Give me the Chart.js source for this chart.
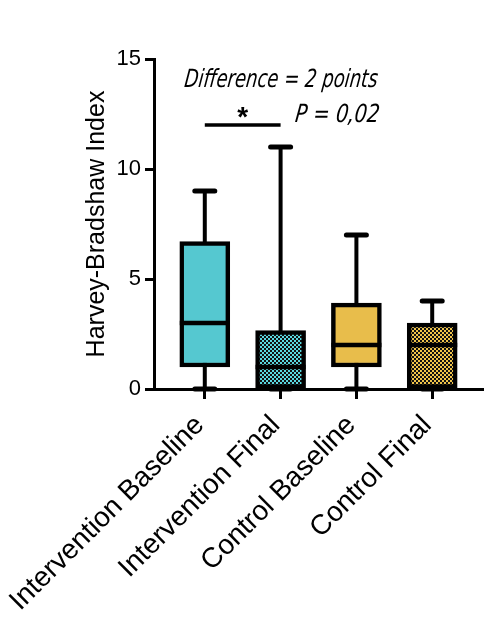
<!DOCTYPE html>
<html>
<head>
<meta charset="utf-8">
<title>Harvey-Bradshaw Index</title>
<script src="https://cdn.jsdelivr.net/npm/chart.js@4"></script>
<style>
  body { margin: 0; background: #ffffff; }
  canvas { display: block; }
</style>
</head>
<body>
<canvas id="chart" width="490" height="643"></canvas>
<script>
// Data
const categories = ["Intervention Baseline", "Intervention Final", "Control Baseline", "Control Final"];
const minValues = [0, 0, 0, 0];
const q1Values = [1, 0, 1, 0];
const medianValues = [3, 1, 2, 2];
const q3Values = [6.7, 2.65, 3.9, 3];
const maxValues = [9, 11, 7, 4];
const yTicks = [0, 5, 10, 15];

// Significance bracket between the two intervention groups
const sigPair = [0, 1];
const sigLevel = 12;
const diffText = "Difference = 2 points";
const pText = "P = 0,02";

const teal = "#55c8d0";
const gold = "#e8bd4b";

//Make a small checker pattern for the "Final" boxes
function makePattern(color) {
  const c = document.createElement("canvas");
  c.width = 4;
  c.height = 4;
  const cx = c.getContext("2d");
  cx.fillStyle = color;
  cx.fillRect(0, 0, 4, 4);
  cx.fillStyle = "#111111";
  cx.fillRect(0, 0, 2, 2);
  cx.fillRect(2, 2, 2, 2);
  return cx.createPattern(c, "repeat");
}

const boxFills = [teal, makePattern("#5ad8e0"), gold, makePattern("#f0c44a")];

//Squeeze a note into a given width (narrow handwritten look)
function fitText(ctx, text, x, y, width) {
  const w = ctx.measureText(text).width;
  ctx.save();
  ctx.translate(x, y);
  ctx.transform(width / w, 0, -0.12, 1, 0, 0);
  ctx.fillText(text, 0, 0);
  ctx.restore();
}

//Whiskers go under the axis and boxes, medians and the bracket on top
const boxPlotPlugin = {
  id: "boxPlot",
  beforeDraw(chart) {
    const ctx = chart.ctx;
    const xs = chart.scales.x;
    const ys = chart.scales.y;
    ctx.save();
    ctx.strokeStyle = "#000";
    ctx.lineCap = "round";
    categories.forEach(function (c, i) {
      const x = xs.getPixelForValue(i);
      ctx.lineWidth = 4;
      ctx.beginPath();
      ctx.moveTo(x, ys.getPixelForValue(minValues[i]));
      ctx.lineTo(x, ys.getPixelForValue(maxValues[i]));
      ctx.stroke();
      ctx.lineWidth = 5;
      [minValues[i], maxValues[i]].forEach(function (v) {
        const y = ys.getPixelForValue(v);
        ctx.beginPath();
        ctx.moveTo(x - 10, y);
        ctx.lineTo(x + 10, y);
        ctx.stroke();
      });
    });
    ctx.restore();
  },
  afterDatasetsDraw(chart) {
    const ctx = chart.ctx;
    const xs = chart.scales.x;
    const ys = chart.scales.y;
    const bars = chart.getDatasetMeta(0).data;
    ctx.save();
    ctx.strokeStyle = "#000";
    ctx.lineWidth = 4.5;
    bars.forEach(function (bar, i) {
      const y = ys.getPixelForValue(medianValues[i]);
      ctx.beginPath();
      ctx.moveTo(bar.x - bar.width / 2, y);
      ctx.lineTo(bar.x + bar.width / 2, y);
      ctx.stroke();
    });

    // bracket line and star
    const yb = ys.getPixelForValue(sigLevel);
    const x0 = xs.getPixelForValue(sigPair[0]);
    const x1 = xs.getPixelForValue(sigPair[1]);
    ctx.lineWidth = 3.5;
    ctx.beginPath();
    ctx.moveTo(x0, yb);
    ctx.lineTo(x1, yb);
    ctx.stroke();
    ctx.fillStyle = "#000";
    ctx.textAlign = "center";
    ctx.textBaseline = "alphabetic";
    ctx.font = "bold 28px 'Liberation Sans', Arial, sans-serif";
    ctx.fillText("*", (x0 + x1) / 2, yb + 1);

    // handwritten-looking notes
    ctx.font = "italic 25px 'Liberation Sans Narrow', 'DejaVu Sans Condensed', sans-serif";
    ctx.textAlign = "left";
    fitText(ctx, diffText, x0 - 21, yb - 38, 193);
    fitText(ctx, pText, x1 + 14, yb - 3, 84);
    ctx.restore();
  },
};

const canvasRef = document.getElementById("chart");

//Create the Chart Instance
let myChart = new Chart(canvasRef, {
  type: "bar",
  data: {
    datasets: [
      {
        label: "Harvey-Bradshaw Index",
        data: categories.map(function (c, i) {
          return { x: i, y: [q1Values[i], q3Values[i]] };
        }),
        backgroundColor: boxFills,
        borderColor: "#000",
        borderWidth: 4.5,
        borderSkipped: false,
        barThickness: 50,
      },
    ],
  },
  plugins: [boxPlotPlugin],
  options: {
    responsive: false,
    animation: false,
    devicePixelRatio: 1,
    layout: {
      padding: { top: 59, right: 7, bottom: 0, left: 0 },
    },
    plugins: {
      legend: { display: false },
      tooltip: { enabled: false },
    },
    scales: {
      x: {
        type: "linear",
        min: -0.67,
        max: 3.67,
        offset: false,
        afterBuildTicks: function (scale) {
          scale.ticks = categories.map(function (c, i) {
            return { value: i };
          });
        },
        afterFit: function (scale) {
          scale.height = 254;
          // long rotated labels may hang left of the plot
          scale.paddingLeft = 0;
          scale.paddingRight = 0;
        },
        ticks: {
          autoSkip: false,
          minRotation: 45,
          maxRotation: 45,
          padding: 10,
          labelOffset: -5,
          color: "#000",
          font: { family: "'Liberation Sans', Arial, sans-serif", size: 28 },
          callback: function (value) {
            return categories[value];
          },
        },
        grid: {
          offset: false,
          drawOnChartArea: false,
          tickLength: 10,
          tickWidth: 3,
          color: "#000",
        },
        border: { color: "#000", width: 3 },
      },
      y: {
        min: 0,
        max: 15,
        afterBuildTicks: function (scale) {
          scale.ticks = yTicks.map(function (v) {
            return { value: v };
          });
        },
        afterFit: function (scale) {
          scale.width = 154;
        },
        ticks: {
          padding: 4,
          color: "#000",
          font: { family: "'Liberation Sans', Arial, sans-serif", size: 22 },
        },
        grid: {
          drawOnChartArea: false,
          tickLength: 9,
          tickWidth: 3,
          color: "#000",
        },
        border: { color: "#000", width: 3 },
        title: {
          display: true,
          text: "Harvey-Bradshaw Index",
          color: "#000",
          padding: { top: 82 },
          font: { family: "'Liberation Sans', Arial, sans-serif", size: 25 },
        },
      },
    },
  },
});
</script>
</body>
</html>
